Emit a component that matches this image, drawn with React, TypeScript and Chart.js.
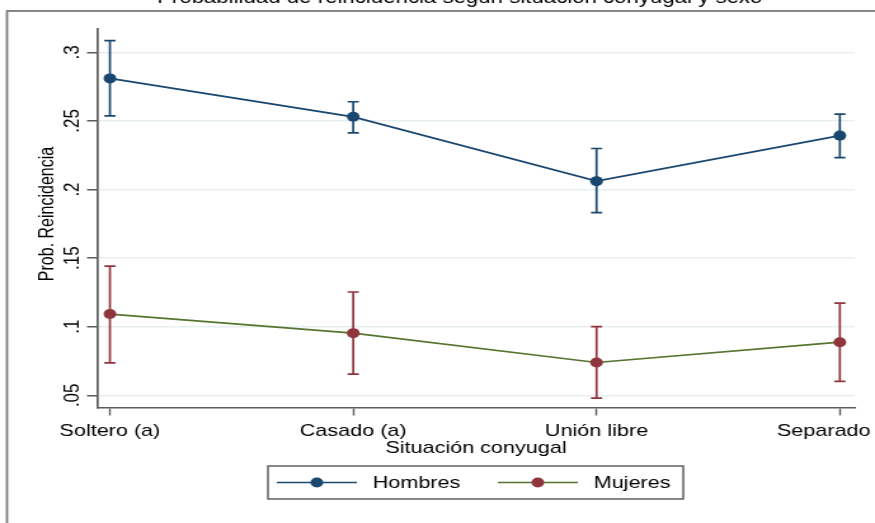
import React, { useEffect, useRef } from "react";
import { Chart, registerables } from "chart.js";

Chart.register(...registerables);

// ---- data ----
const categories = ["Soltero (a)", "Casado (a)", "Unión libre", "Separado"];
const seriesNames = ["Hombres", "Mujeres"];
const hombres = [0.281, 0.253, 0.2061, 0.2393];
const hombresLo = [0.2537, 0.2413, 0.1831, 0.2232];
const hombresHi = [0.3085, 0.264, 0.2299, 0.2549];
const mujeres = [0.1092, 0.0953, 0.0739, 0.0887];
const mujeresLo = [0.0737, 0.0654, 0.0479, 0.0602];
const mujeresHi = [0.1442, 0.1253, 0.1, 0.1172];
const yTicks = [0.05, 0.1, 0.15, 0.2, 0.25, 0.3];
const yTickLabels = [".05", ".1", ".15", ".2", ".25", ".3"];
const titleText = "Probabilidad de reincidencia según situación conyugal y sexo";
const xTitle = "Situación conyugal";
const yTitle = "Prob. Reincidencia";

// ---- look ----
const STRETCH = 1.27;
const CSS_W = 875;
const H = 523;
const W = Math.round(CSS_W / STRETCH);
const FONT = "'Liberation Sans', Arial, Helvetica, sans-serif";
const NAVY = "#1a476f";
const MAROON = "#90353b";
const GREEN = "#55752f";
const AXIS = "#5c5c5c";
const GRID = "#e8eff2";

const lows = [hombresLo, mujeresLo];
const highs = [hombresHi, mujeresHi];
const markerColors = [NAVY, MAROON];
const lineColors = [NAVY, GREEN];

const decor = {
  id: "decor",
  beforeDraw(chart: any) {
    const ctx = chart.ctx;
    ctx.save();
    ctx.fillStyle = "#ffffff";
    ctx.fillRect(0, 0, chart.width, chart.height);
    // outer frame
    ctx.strokeStyle = "#7a7a7a";
    ctx.lineWidth = 1.8;
    ctx.strokeRect(5.5, 11, chart.width + 20, chart.height + 20);
    // title (cut at the top)
    ctx.fillStyle = "#000";
    ctx.font = `17.5px ${FONT}`;
    ctx.textAlign = "center";
    ctx.textBaseline = "alphabetic";
    ctx.fillText(titleText, 362, 3);
    ctx.restore();
  },
  beforeDatasetsDraw(chart: any) {
    const ctx = chart.ctx;
    const xs = chart.scales.x;
    const ys = chart.scales.y;
    ctx.save();
    ctx.lineWidth = 1.7;
    const cap = 4.4;
    for (let d = 0; d < 2; d++) {
      ctx.strokeStyle = markerColors[d];
      for (let i = 0; i < categories.length; i++) {
        const x = xs.getPixelForValue(i);
        const y1 = ys.getPixelForValue(lows[d][i]);
        const y2 = ys.getPixelForValue(highs[d][i]);
        ctx.beginPath();
        ctx.moveTo(x, y1);
        ctx.lineTo(x, y2);
        ctx.moveTo(x - cap, y1);
        ctx.lineTo(x + cap, y1);
        ctx.moveTo(x - cap, y2);
        ctx.lineTo(x + cap, y2);
        ctx.stroke();
      }
    }
    ctx.restore();
  },
  afterDraw(chart: any) {
    const ctx = chart.ctx;
    const xs = chart.scales.x;
    const ys = chart.scales.y;
    const area = chart.chartArea;
    ctx.save();
    ctx.fillStyle = "#000";
    // y tick labels, rotated
    ctx.font = `17px ${FONT}`;
    ctx.textAlign = "center";
    ctx.textBaseline = "middle";
    yTicks.forEach((v, i) => {
      const y = ys.getPixelForValue(v);
      ctx.save();
      ctx.translate(57, y);
      ctx.rotate(-Math.PI / 2);
      ctx.fillText(yTickLabels[i], 0, 0);
      ctx.restore();
    });
    // y title
    ctx.font = `16px ${FONT}`;
    ctx.save();
    ctx.translate(37.4, 214);
    ctx.rotate(-Math.PI / 2);
    ctx.fillText(yTitle, 0, 0);
    ctx.restore();
    // x tick labels
    ctx.font = `17px ${FONT}`;
    categories.forEach((c, i) => {
      let x = xs.getPixelForValue(i);
      const w = ctx.measureText(c).width;
      if (x + w / 2 > chart.width - 3.5) x = chart.width - 3.5 - w / 2;
      ctx.fillText(c, x, 431);
    });
    // x title
    ctx.fillText(xTitle, (area.left + area.right) / 2, 448);
    // legend
    const lx0 = 211, lx1 = 538, ly0 = 466, ly1 = 499;
    ctx.strokeStyle = "#555";
    ctx.lineWidth = 1.4;
    ctx.strokeRect(lx0, ly0, lx1 - lx0, ly1 - ly0);
    const cy = (ly0 + ly1) / 2;
    const starts = [218, 392];
    for (let d = 0; d < 2; d++) {
      const s = starts[d];
      ctx.strokeStyle = lineColors[d];
      ctx.lineWidth = 1.6;
      ctx.beginPath();
      ctx.moveTo(s, cy);
      ctx.lineTo(s + 63, cy);
      ctx.stroke();
      ctx.fillStyle = markerColors[d];
      ctx.beginPath();
      ctx.arc(s + 31.5, cy, 5, 0, Math.PI * 2);
      ctx.fill();
      ctx.fillStyle = "#000";
      ctx.textAlign = "left";
      ctx.font = `17px ${FONT}`;
      ctx.fillText(seriesNames[d], s + 75.5, cy + 0.5);
    }
    ctx.restore();
  },
};

export default function App() {
  const ref = useRef<HTMLCanvasElement | null>(null);
  useEffect(() => {
    if (!ref.current) return;
    const chart = new Chart(ref.current, {
      type: "line",
      data: {
        datasets: [
          {
            label: seriesNames[0],
            data: hombres.map((v, i) => ({ x: i, y: v })),
            borderColor: NAVY,
            borderWidth: 1.7,
            pointBackgroundColor: NAVY,
            pointBorderColor: NAVY,
            pointBorderWidth: 0,
            pointRadius: 5,
            tension: 0,
          },
          {
            label: seriesNames[1],
            data: mujeres.map((v, i) => ({ x: i, y: v })),
            borderColor: GREEN,
            borderWidth: 1.7,
            pointBackgroundColor: MAROON,
            pointBorderColor: MAROON,
            pointBorderWidth: 0,
            pointRadius: 5,
            tension: 0,
          },
        ],
      },
      options: {
        responsive: false,
        animation: false,
        devicePixelRatio: 1,
        layout: { padding: { top: 29.3, left: 0, right: W - 673.2, bottom: 0 } },
        plugins: { legend: { display: false }, title: { display: false }, tooltip: { enabled: false } },
        scales: {
          x: {
            type: "linear",
            min: -0.053,
            max: 3.062,
            afterBuildTicks: (s: any) => {
              s.ticks = categories.map((_, i) => ({ value: i }));
            },
            afterFit: (s: any) => {
              s.height = H - 407.5;
            },
            ticks: { display: false },
            grid: { drawOnChartArea: false, drawTicks: true, tickLength: 8, tickColor: AXIS, tickWidth: 1.4 },
            border: { display: true, color: AXIS, width: 1.6 },
          },
          y: {
            type: "linear",
            min: 0.0411,
            max: 0.3168,
            afterBuildTicks: (s: any) => {
              s.ticks = yTicks.map((v) => ({ value: v }));
            },
            afterFit: (s: any) => {
              s.width = 76.4;
            },
            ticks: { display: false },
            grid: { color: GRID, lineWidth: 1.5, drawTicks: true, tickLength: 7.9, tickColor: AXIS, tickWidth: 1.5 },
            border: { display: true, color: AXIS, width: 1.7 },
          },
        },
      },
      plugins: [decor],
    });
    return () => chart.destroy();
  }, []);
  return (
    <div style={{ position: "absolute", left: 0, top: 0, width: CSS_W, height: H, overflow: "hidden" }}>
      <canvas ref={ref} width={W} height={H} style={{ width: `${CSS_W}px`, height: `${H}px`, display: "block" }} />
    </div>
  );
}
